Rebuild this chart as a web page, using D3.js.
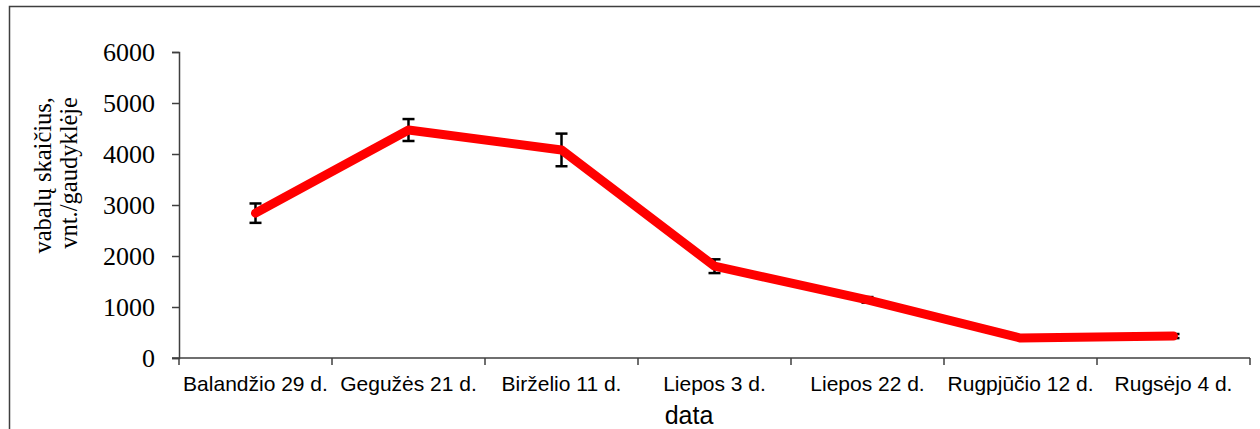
<!DOCTYPE html>
<html>
<head>
<meta charset="utf-8">
<script src="https://cdn.jsdelivr.net/npm/d3@7"></script>
<style>
  html, body { margin: 0; padding: 0; background: #fff; }
  svg { display: block; }
</style>
</head>
<body>
<div id="chart"></div>
<script>
// data
var dates = ["Balandžio 29 d.", "Gegužės 21 d.", "Birželio 11 d.", "Liepos 3 d.",
             "Liepos 22 d.", "Rugpjūčio 12 d.", "Rugsėjo 4 d."];
var counts = [2840, 4470, 4080, 1800, 1140, 390, 430];
var errors = [190, 215, 320, 135, 55, 20, 40];
var yTicks = [0, 1000, 2000, 3000, 4000, 5000, 6000];

var width = 1260, height = 429;
var margin = {left: 179, right: 10, top: 52, bottom: 71};

var svg = d3.select("#chart").append("svg")
    .attr("width", width)
    .attr("height", height);

// outer frame (only top and left edges show in the crop)
svg.append("rect")
    .attr("x", 9.5).attr("y", 6.5)
    .attr("width", width).attr("height", height + 20)
    .attr("fill", "none")
    .attr("stroke", "#3f3f3f")
    .attr("stroke-width", 1.5);

var x = d3.scaleBand()
    .domain(dates)
    .range([margin.left, width - margin.right]);

var y = d3.scaleLinear()
    .domain([0, 6000])
    .range([height - margin.bottom, margin.top]);

// y axis
var yAxis = svg.append("g")
    .attr("transform", "translate(" + margin.left + ",0)")
    .call(d3.axisLeft(y).tickValues(yTicks).tickSize(7).tickPadding(17).tickFormat(d3.format("d")));
yAxis.selectAll("text")
    .attr("font-family", "'Liberation Serif', 'Times New Roman', serif")
    .attr("font-size", 26)
    .attr("fill", "#000");
yAxis.select(".domain").attr("stroke", "#3f3f3f").attr("stroke-width", 1.5);
yAxis.selectAll(".tick line").attr("stroke", "#3f3f3f").attr("stroke-width", 1.5);

// x axis: ticks sit between categories, like Excel
var xAxis = svg.append("g")
    .attr("transform", "translate(0," + y(0) + ")");
xAxis.append("line")
    .attr("x1", margin.left - 7).attr("x2", width - margin.right)
    .attr("stroke", "#3f3f3f").attr("stroke-width", 1.5);
var bounds = dates.map(function(d) { return x(d); }).concat([x.range()[1]]);
xAxis.selectAll(".tk").data(bounds).enter().append("line")
    .attr("x1", function(d) { return d; })
    .attr("x2", function(d) { return d; })
    .attr("y1", 0).attr("y2", 7)
    .attr("stroke", "#3f3f3f").attr("stroke-width", 1.5);
xAxis.selectAll(".lbl").data(dates).enter().append("text")
    .attr("x", function(d) { return x(d) + x.bandwidth() / 2; })
    .attr("y", 33)
    .attr("text-anchor", "middle")
    .attr("font-family", "'Liberation Sans', Arial, sans-serif")
    .attr("font-size", 21)
    .attr("fill", "#000")
    .text(function(d) { return d; });

// axis titles
svg.append("text")
    .attr("x", 689).attr("y", 424)
    .attr("text-anchor", "middle")
    .attr("font-family", "'Liberation Sans', Arial, sans-serif")
    .attr("font-size", 25)
    .text("data");

var ttl = svg.append("text")
    .attr("transform", "translate(51,97) rotate(-90)")
    .attr("text-anchor", "end")
    .attr("font-family", "'Liberation Serif', 'Times New Roman', serif")
    .attr("font-size", 24.5);
ttl.append("tspan").attr("x", 0).attr("y", 0).text("vabalų skaičius,");
ttl.append("tspan").attr("x", 0).attr("y", 26).text("vnt./gaudyklėje");

// error bars
var pts = dates.map(function(d, i) {
    return {cx: x(d) + x.bandwidth() / 2, v: counts[i], e: errors[i]};
});
var eb = svg.append("g").attr("stroke", "#000").attr("stroke-width", 2.5);
pts.forEach(function(p) {
    eb.append("line").attr("x1", p.cx).attr("x2", p.cx)
        .attr("y1", y(p.v - p.e)).attr("y2", y(p.v + p.e));
    [p.v - p.e, p.v + p.e].forEach(function(v) {
        eb.append("line").attr("x1", p.cx - 6).attr("x2", p.cx + 6)
            .attr("y1", y(v)).attr("y2", y(v));
    });
});

// the series line
var line = d3.line()
    .x(function(p) { return p.cx; })
    .y(function(p) { return y(p.v); });

svg.append("path")
    .datum(pts)
    .attr("d", line)
    .attr("fill", "none")
    .attr("stroke", "#ff0000")
    .attr("stroke-width", 9)
    .attr("stroke-linecap", "round")
    .attr("stroke-linejoin", "round");
</script>
</body>
</html>
